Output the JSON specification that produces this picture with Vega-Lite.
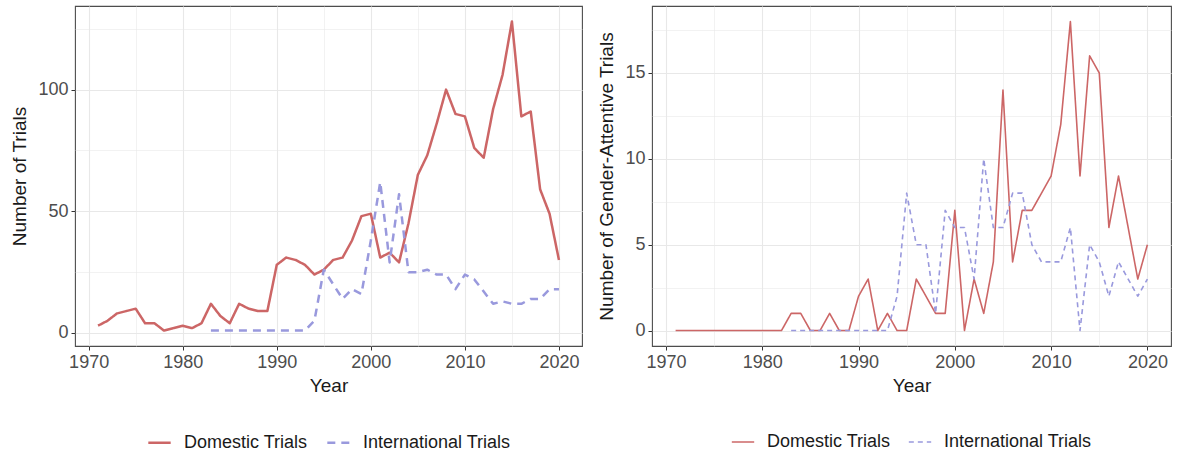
{
  "$schema": "https://vega.github.io/schema/vega-lite/v6.json",
  "padding": {"left": 10, "top": 5, "right": 5, "bottom": 0},
  "background": "white",
  "spacing": 14,
  "datasets": {
    "trials": [
      {"year": 1971, "series": "Domestic Trials", "value": 3},
      {"year": 1972, "series": "Domestic Trials", "value": 5},
      {"year": 1973, "series": "Domestic Trials", "value": 8},
      {"year": 1974, "series": "Domestic Trials", "value": 9},
      {"year": 1975, "series": "Domestic Trials", "value": 10},
      {"year": 1976, "series": "Domestic Trials", "value": 4},
      {"year": 1977, "series": "Domestic Trials", "value": 4},
      {"year": 1978, "series": "Domestic Trials", "value": 1},
      {"year": 1979, "series": "Domestic Trials", "value": 2},
      {"year": 1980, "series": "Domestic Trials", "value": 3},
      {"year": 1981, "series": "Domestic Trials", "value": 2},
      {"year": 1982, "series": "Domestic Trials", "value": 4},
      {"year": 1983, "series": "Domestic Trials", "value": 12},
      {"year": 1984, "series": "Domestic Trials", "value": 7},
      {"year": 1985, "series": "Domestic Trials", "value": 4},
      {"year": 1986, "series": "Domestic Trials", "value": 12},
      {"year": 1987, "series": "Domestic Trials", "value": 10},
      {"year": 1988, "series": "Domestic Trials", "value": 9},
      {"year": 1989, "series": "Domestic Trials", "value": 9},
      {"year": 1990, "series": "Domestic Trials", "value": 28},
      {"year": 1991, "series": "Domestic Trials", "value": 31},
      {"year": 1992, "series": "Domestic Trials", "value": 30},
      {"year": 1993, "series": "Domestic Trials", "value": 28},
      {"year": 1994, "series": "Domestic Trials", "value": 24},
      {"year": 1995, "series": "Domestic Trials", "value": 26},
      {"year": 1996, "series": "Domestic Trials", "value": 30},
      {"year": 1997, "series": "Domestic Trials", "value": 31},
      {"year": 1998, "series": "Domestic Trials", "value": 38},
      {"year": 1999, "series": "Domestic Trials", "value": 48},
      {"year": 2000, "series": "Domestic Trials", "value": 49},
      {"year": 2001, "series": "Domestic Trials", "value": 31},
      {"year": 2002, "series": "Domestic Trials", "value": 33},
      {"year": 2003, "series": "Domestic Trials", "value": 29},
      {"year": 2004, "series": "Domestic Trials", "value": 45},
      {"year": 2005, "series": "Domestic Trials", "value": 65},
      {"year": 2006, "series": "Domestic Trials", "value": 73},
      {"year": 2007, "series": "Domestic Trials", "value": 86},
      {"year": 2008, "series": "Domestic Trials", "value": 100},
      {"year": 2009, "series": "Domestic Trials", "value": 90},
      {"year": 2010, "series": "Domestic Trials", "value": 89},
      {"year": 2011, "series": "Domestic Trials", "value": 76},
      {"year": 2012, "series": "Domestic Trials", "value": 72},
      {"year": 2013, "series": "Domestic Trials", "value": 92},
      {"year": 2014, "series": "Domestic Trials", "value": 106},
      {"year": 2015, "series": "Domestic Trials", "value": 128},
      {"year": 2016, "series": "Domestic Trials", "value": 89},
      {"year": 2017, "series": "Domestic Trials", "value": 91},
      {"year": 2018, "series": "Domestic Trials", "value": 59},
      {"year": 2019, "series": "Domestic Trials", "value": 49},
      {"year": 2020, "series": "Domestic Trials", "value": 30},
      {"year": 1983, "series": "International Trials", "value": 1},
      {"year": 1984, "series": "International Trials", "value": 1},
      {"year": 1985, "series": "International Trials", "value": 1},
      {"year": 1986, "series": "International Trials", "value": 1},
      {"year": 1987, "series": "International Trials", "value": 1},
      {"year": 1988, "series": "International Trials", "value": 1},
      {"year": 1989, "series": "International Trials", "value": 1},
      {"year": 1990, "series": "International Trials", "value": 1},
      {"year": 1991, "series": "International Trials", "value": 1},
      {"year": 1992, "series": "International Trials", "value": 1},
      {"year": 1993, "series": "International Trials", "value": 1},
      {"year": 1994, "series": "International Trials", "value": 5},
      {"year": 1995, "series": "International Trials", "value": 26},
      {"year": 1996, "series": "International Trials", "value": 20},
      {"year": 1997, "series": "International Trials", "value": 14},
      {"year": 1998, "series": "International Trials", "value": 18},
      {"year": 1999, "series": "International Trials", "value": 16},
      {"year": 2000, "series": "International Trials", "value": 38},
      {"year": 2001, "series": "International Trials", "value": 62},
      {"year": 2002, "series": "International Trials", "value": 29},
      {"year": 2003, "series": "International Trials", "value": 57},
      {"year": 2004, "series": "International Trials", "value": 25},
      {"year": 2005, "series": "International Trials", "value": 25},
      {"year": 2006, "series": "International Trials", "value": 26},
      {"year": 2007, "series": "International Trials", "value": 24},
      {"year": 2008, "series": "International Trials", "value": 24},
      {"year": 2009, "series": "International Trials", "value": 18},
      {"year": 2010, "series": "International Trials", "value": 24},
      {"year": 2011, "series": "International Trials", "value": 22},
      {"year": 2012, "series": "International Trials", "value": 17},
      {"year": 2013, "series": "International Trials", "value": 12},
      {"year": 2014, "series": "International Trials", "value": 13},
      {"year": 2015, "series": "International Trials", "value": 12},
      {"year": 2016, "series": "International Trials", "value": 12},
      {"year": 2017, "series": "International Trials", "value": 14},
      {"year": 2018, "series": "International Trials", "value": 14},
      {"year": 2019, "series": "International Trials", "value": 18},
      {"year": 2020, "series": "International Trials", "value": 18}
    ],
    "gender": [
      {"year": 1971, "series": "Domestic Trials", "value": 0},
      {"year": 1972, "series": "Domestic Trials", "value": 0},
      {"year": 1973, "series": "Domestic Trials", "value": 0},
      {"year": 1974, "series": "Domestic Trials", "value": 0},
      {"year": 1975, "series": "Domestic Trials", "value": 0},
      {"year": 1976, "series": "Domestic Trials", "value": 0},
      {"year": 1977, "series": "Domestic Trials", "value": 0},
      {"year": 1978, "series": "Domestic Trials", "value": 0},
      {"year": 1979, "series": "Domestic Trials", "value": 0},
      {"year": 1980, "series": "Domestic Trials", "value": 0},
      {"year": 1981, "series": "Domestic Trials", "value": 0},
      {"year": 1982, "series": "Domestic Trials", "value": 0},
      {"year": 1983, "series": "Domestic Trials", "value": 1},
      {"year": 1984, "series": "Domestic Trials", "value": 1},
      {"year": 1985, "series": "Domestic Trials", "value": 0},
      {"year": 1986, "series": "Domestic Trials", "value": 0},
      {"year": 1987, "series": "Domestic Trials", "value": 1},
      {"year": 1988, "series": "Domestic Trials", "value": 0},
      {"year": 1989, "series": "Domestic Trials", "value": 0},
      {"year": 1990, "series": "Domestic Trials", "value": 2},
      {"year": 1991, "series": "Domestic Trials", "value": 3},
      {"year": 1992, "series": "Domestic Trials", "value": 0},
      {"year": 1993, "series": "Domestic Trials", "value": 1},
      {"year": 1994, "series": "Domestic Trials", "value": 0},
      {"year": 1995, "series": "Domestic Trials", "value": 0},
      {"year": 1996, "series": "Domestic Trials", "value": 3},
      {"year": 1997, "series": "Domestic Trials", "value": 2},
      {"year": 1998, "series": "Domestic Trials", "value": 1},
      {"year": 1999, "series": "Domestic Trials", "value": 1},
      {"year": 2000, "series": "Domestic Trials", "value": 7},
      {"year": 2001, "series": "Domestic Trials", "value": 0},
      {"year": 2002, "series": "Domestic Trials", "value": 3},
      {"year": 2003, "series": "Domestic Trials", "value": 1},
      {"year": 2004, "series": "Domestic Trials", "value": 4},
      {"year": 2005, "series": "Domestic Trials", "value": 14},
      {"year": 2006, "series": "Domestic Trials", "value": 4},
      {"year": 2007, "series": "Domestic Trials", "value": 7},
      {"year": 2008, "series": "Domestic Trials", "value": 7},
      {"year": 2009, "series": "Domestic Trials", "value": 8},
      {"year": 2010, "series": "Domestic Trials", "value": 9},
      {"year": 2011, "series": "Domestic Trials", "value": 12},
      {"year": 2012, "series": "Domestic Trials", "value": 18},
      {"year": 2013, "series": "Domestic Trials", "value": 9},
      {"year": 2014, "series": "Domestic Trials", "value": 16},
      {"year": 2015, "series": "Domestic Trials", "value": 15},
      {"year": 2016, "series": "Domestic Trials", "value": 6},
      {"year": 2017, "series": "Domestic Trials", "value": 9},
      {"year": 2018, "series": "Domestic Trials", "value": 6},
      {"year": 2019, "series": "Domestic Trials", "value": 3},
      {"year": 2020, "series": "Domestic Trials", "value": 5},
      {"year": 1983, "series": "International Trials", "value": 0},
      {"year": 1984, "series": "International Trials", "value": 0},
      {"year": 1985, "series": "International Trials", "value": 0},
      {"year": 1986, "series": "International Trials", "value": 0},
      {"year": 1987, "series": "International Trials", "value": 0},
      {"year": 1988, "series": "International Trials", "value": 0},
      {"year": 1989, "series": "International Trials", "value": 0},
      {"year": 1990, "series": "International Trials", "value": 0},
      {"year": 1991, "series": "International Trials", "value": 0},
      {"year": 1992, "series": "International Trials", "value": 0},
      {"year": 1993, "series": "International Trials", "value": 0},
      {"year": 1994, "series": "International Trials", "value": 2},
      {"year": 1995, "series": "International Trials", "value": 8},
      {"year": 1996, "series": "International Trials", "value": 5},
      {"year": 1997, "series": "International Trials", "value": 5},
      {"year": 1998, "series": "International Trials", "value": 1},
      {"year": 1999, "series": "International Trials", "value": 7},
      {"year": 2000, "series": "International Trials", "value": 6},
      {"year": 2001, "series": "International Trials", "value": 6},
      {"year": 2002, "series": "International Trials", "value": 3},
      {"year": 2003, "series": "International Trials", "value": 10},
      {"year": 2004, "series": "International Trials", "value": 6},
      {"year": 2005, "series": "International Trials", "value": 6},
      {"year": 2006, "series": "International Trials", "value": 8},
      {"year": 2007, "series": "International Trials", "value": 8},
      {"year": 2008, "series": "International Trials", "value": 5},
      {"year": 2009, "series": "International Trials", "value": 4},
      {"year": 2010, "series": "International Trials", "value": 4},
      {"year": 2011, "series": "International Trials", "value": 4},
      {"year": 2012, "series": "International Trials", "value": 6},
      {"year": 2013, "series": "International Trials", "value": 0},
      {"year": 2014, "series": "International Trials", "value": 5},
      {"year": 2015, "series": "International Trials", "value": 4},
      {"year": 2016, "series": "International Trials", "value": 2},
      {"year": 2017, "series": "International Trials", "value": 4},
      {"year": 2018, "series": "International Trials", "value": 3},
      {"year": 2019, "series": "International Trials", "value": 2},
      {"year": 2020, "series": "International Trials", "value": 3}
    ]
  },
  "hconcat": [
    {
      "width": 507,
      "height": 340,
      "data": {"name": "trials"},
      "mark": {"type": "line", "strokeWidth": 2.5, "strokeJoin": "round"},
      "encoding": {
        "x": {
          "field": "year", "type": "quantitative", "title": "Year",
          "scale": {"domain": [1968.55, 2022.45], "nice": false, "zero": false},
          "axis": {
            "values": [1970, 1975, 1980, 1985, 1990, 1995, 2000, 2005, 2010, 2015, 2020],
            "format": "d",
            "labelExpr": "datum.value % 10 == 0 ? datum.label : ''",
            "tickOpacity": {"condition": {"test": "datum.value % 10 == 0", "value": 1}, "value": 0},
            "gridWidth": {"condition": {"test": "datum.value % 10 == 0", "value": 1.1}, "value": 0.55}
          }
        },
        "y": {
          "field": "value", "type": "quantitative", "title": "Number of Trials",
          "scale": {"domain": [-5.35, 134.35], "nice": false, "zero": false},
          "axis": {
            "values": [0, 25, 50, 75, 100, 125],
            "labelExpr": "datum.value % 50 == 0 ? datum.label : ''",
            "tickOpacity": {"condition": {"test": "datum.value % 50 == 0", "value": 1}, "value": 0},
            "gridWidth": {"condition": {"test": "datum.value % 50 == 0", "value": 1.1}, "value": 0.55}
          }
        },
        "color": {
          "field": "series", "type": "nominal",
          "scale": {"domain": ["Domestic Trials", "International Trials"], "range": ["#CC6666", "#9999DD"]},
          "legend": {"title": null, "orient": "bottom", "direction": "horizontal", "symbolStrokeWidth": 2.5}
        },
        "strokeDash": {
          "field": "series", "type": "nominal",
          "scale": {"domain": ["Domestic Trials", "International Trials"], "range": [[1, 0], [8, 6]]},
          "legend": {"title": null, "orient": "bottom", "direction": "horizontal", "symbolStrokeWidth": 2.5}
        }
      }
    },
    {
      "width": 519,
      "height": 340,
      "data": {"name": "gender"},
      "mark": {"type": "line", "strokeWidth": 1.6, "strokeJoin": "round"},
      "encoding": {
        "x": {
          "field": "year", "type": "quantitative", "title": "Year",
          "scale": {"domain": [1968.55, 2022.45], "nice": false, "zero": false},
          "axis": {
            "values": [1970, 1975, 1980, 1985, 1990, 1995, 2000, 2005, 2010, 2015, 2020],
            "format": "d",
            "labelExpr": "datum.value % 10 == 0 ? datum.label : ''",
            "tickOpacity": {"condition": {"test": "datum.value % 10 == 0", "value": 1}, "value": 0},
            "gridWidth": {"condition": {"test": "datum.value % 10 == 0", "value": 1.1}, "value": 0.55}
          }
        },
        "y": {
          "field": "value", "type": "quantitative", "title": "Number of Gender-Attentive Trials",
          "scale": {"domain": [-0.9, 18.9], "nice": false, "zero": false},
          "axis": {
            "values": [0, 2.5, 5, 7.5, 10, 12.5, 15, 17.5],
            "labelExpr": "datum.value % 5 == 0 ? datum.label : ''",
            "tickOpacity": {"condition": {"test": "datum.value % 5 == 0", "value": 1}, "value": 0},
            "gridWidth": {"condition": {"test": "datum.value % 5 == 0", "value": 1.1}, "value": 0.55}
          }
        },
        "color": {
          "field": "series", "type": "nominal",
          "scale": {"domain": ["Domestic Trials", "International Trials"], "range": ["#CC6666", "#9999DD"]},
          "legend": {"title": null, "orient": "bottom", "direction": "horizontal", "symbolStrokeWidth": 1.6}
        },
        "strokeDash": {
          "field": "series", "type": "nominal",
          "scale": {"domain": ["Domestic Trials", "International Trials"], "range": [[1, 0], [5, 4]]},
          "legend": {"title": null, "orient": "bottom", "direction": "horizontal", "symbolStrokeWidth": 1.6}
        }
      }
    }
  ],
  "resolve": {"scale": {"color": "independent", "strokeDash": "independent"}, "legend": {"color": "independent", "strokeDash": "independent"}},
  "config": {
    "font": "Liberation Sans",
    "view": {"stroke": "#4d4d4d", "strokeWidth": 1.1},
    "axis": {
      "domain": false,
      "gridColor": "#e8e8e8",
      "tickColor": "#333333",
      "tickSize": 4,
      "labelFont": "Liberation Sans",
      "labelFontSize": 18,
      "labelColor": "#4d4d4d",
      "labelPadding": 3,
      "titleFont": "Liberation Sans",
      "titleFontSize": 19,
      "titleFontWeight": "normal",
      "titleColor": "#1a1a1a"
    },
    "axisX": {"titlePadding": 5},
    "axisY": {"titlePadding": 8},
    "legend": {
      "symbolType": "stroke",
      "symbolSize": 500,
      "labelFont": "Liberation Sans",
      "labelFontSize": 18,
      "labelColor": "#1a1a1a",
      "labelOffset": 12,
      "columnPadding": 14,
      "offset": 35,
      "layout": {"bottom": {"anchor": "middle"}}
    }
  }
}
